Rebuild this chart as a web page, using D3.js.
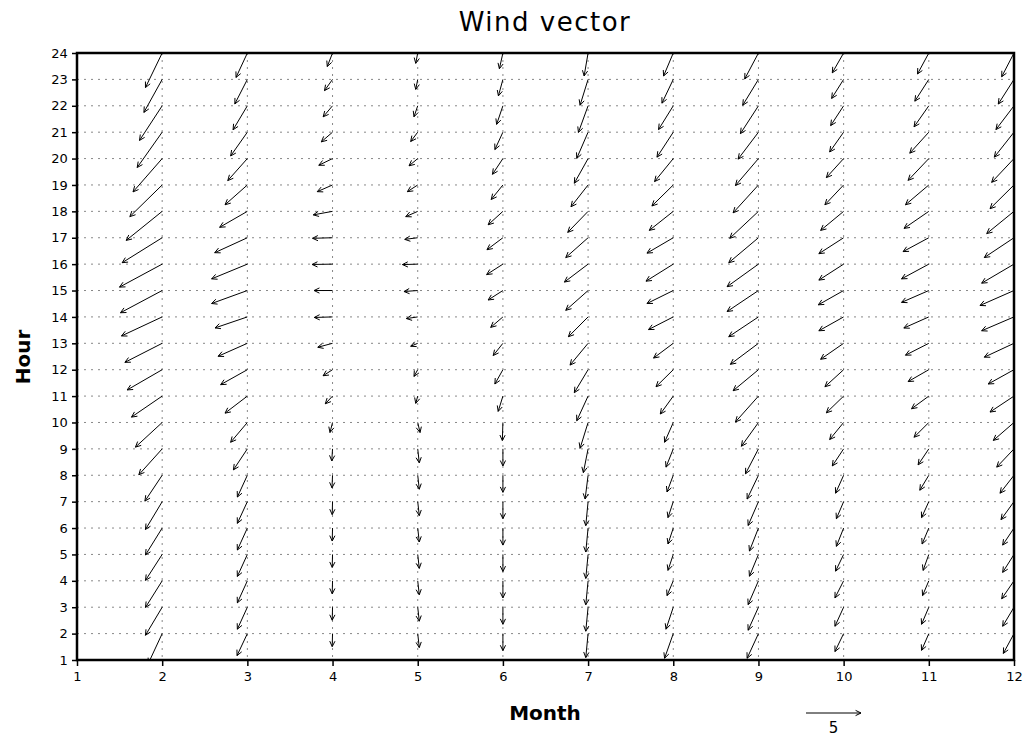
<!DOCTYPE html>
<html><head><meta charset="utf-8">
<script src="https://cdn.jsdelivr.net/npm/d3@7"></script>
<style>body{margin:0;background:#fff;} svg{display:block;}</style>
</head><body>
<svg id="chart" width="1025" height="737"></svg>
<script>
// ---- data ----
const months = [2,3,4,5,6,7,8,9,10,11,12];
const hours = d3.range(1, 25); // 1..24
const xTicks = d3.range(1, 13);
const yTicks = d3.range(1, 25);
const refLength = 5;
// u, v components, index 0 = hour 1 ... index 23 = hour 24
const uM2  = [-1.27,-1.27,-1.52,-1.52,-1.52,-1.52,-1.52,-1.57,-2.12,-2.43,-2.79,-3.18,-3.39,-3.70,-3.79,-3.88,-3.64,-3.27,-2.94,-2.65,-2.27,-2.06,-1.66,-1.52];
const vM2  = [-2.73,-2.73,-2.55,-2.42,-2.36,-2.45,-2.53,-2.35,-2.35,-2.24,-1.91,-1.84,-1.73,-1.73,-2.02,-2.09,-2.27,-2.64,-2.88,-3.03,-3.21,-3.15,-3.00,-3.14];
const uM3  = [-0.94,-0.94,-0.91,-0.91,-0.91,-0.91,-0.91,-0.91,-1.27,-1.52,-2.03,-2.43,-2.66,-2.94,-3.25,-3.25,-2.97,-2.52,-2.03,-1.78,-1.52,-1.30,-1.14,-1.03];
const vM3  = [-2.00,-2.00,-2.00,-2.00,-2.00,-2.00,-1.97,-1.98,-1.91,-1.80,-1.55,-1.36,-1.18,-1.00,-1.18,-1.34,-1.36,-1.45,-1.80,-2.00,-2.16,-2.18,-2.23,-2.22];
const uM4  = [-0.03,-0.03,-0.03,-0.03,-0.03,-0.03,-0.03,-0.05,-0.07,-0.23,-0.66,-0.86,-1.34,-1.66,-1.68,-1.86,-1.82,-1.75,-1.39,-1.25,-1.02,-0.85,-0.73,-0.48];
const vM4  = [-1.18,-1.18,-1.18,-1.18,-1.18,-1.18,-1.18,-1.14,-1.09,-0.91,-0.70,-0.55,-0.36,-0.05,0.00,-0.03,-0.05,-0.32,-0.61,-0.61,-0.88,-1.00,-1.02,-1.23];
const uM5  = [0.14,0.14,0.14,0.14,0.14,0.14,0.14,0.14,0.14,0.21,-0.18,-0.34,-0.64,-1.03,-1.25,-1.39,-1.18,-1.09,-0.94,-0.79,-0.64,-0.34,-0.18,-0.18];
const vM5  = [-1.27,-1.27,-1.27,-1.27,-1.27,-1.27,-1.27,-1.27,-1.27,-0.91,-0.66,-0.61,-0.27,-0.15,-0.09,-0.04,-0.15,-0.48,-0.61,-0.66,-0.85,-1.00,-0.91,-0.94];
const uM6  = [0.00,0.00,0.00,0.00,0.00,0.00,0.00,0.00,0.00,-0.05,-0.43,-0.73,-0.88,-1.11,-1.34,-1.48,-1.45,-1.34,-1.06,-0.95,-0.73,-0.57,-0.41,-0.32];
const vM6  = [-1.55,-1.55,-1.55,-1.55,-1.55,-1.55,-1.55,-1.55,-1.55,-1.64,-1.39,-1.30,-1.11,-0.95,-0.86,-0.95,-1.09,-1.22,-1.32,-1.43,-1.58,-1.69,-1.50,-1.43];
const uM7  = [-0.21,-0.21,-0.21,-0.21,-0.21,-0.21,-0.21,-0.27,-0.43,-0.73,-1.03,-1.25,-1.64,-1.79,-2.03,-2.15,-2.03,-1.85,-1.55,-1.25,-1.03,-0.88,-0.73,-0.36];
const vM7  = [-2.18,-2.18,-2.18,-2.18,-2.18,-2.18,-2.18,-2.16,-2.16,-2.35,-2.24,-2.09,-1.98,-1.80,-1.80,-1.63,-1.80,-1.91,-1.98,-2.24,-2.38,-2.42,-2.35,-2.09];
const uM8  = [-0.79,-0.79,-0.66,-0.57,-0.48,-0.48,-0.48,-0.57,-0.66,-0.79,-1.18,-1.57,-1.79,-2.25,-2.39,-2.48,-2.39,-2.18,-1.94,-1.70,-1.48,-1.34,-1.03,-0.88];
const vM8  = [-2.24,-2.24,-2.00,-1.34,-1.45,-1.45,-1.45,-1.52,-1.66,-1.80,-1.63,-1.55,-1.34,-1.15,-1.18,-1.55,-1.40,-1.73,-1.91,-2.09,-2.27,-2.16,-2.16,-2.09];
const uM9  = [-1.03,-1.03,-0.94,-0.94,-0.82,-0.82,-0.94,-1.03,-1.18,-1.55,-2.09,-2.30,-2.55,-2.70,-2.85,-2.85,-2.70,-2.61,-2.30,-2.09,-1.85,-1.64,-1.43,-1.25];
const vM9  = [-2.24,-2.24,-2.09,-2.16,-1.98,-2.09,-2.16,-2.16,-2.27,-2.16,-2.35,-1.91,-1.91,-1.80,-1.91,-2.05,-2.27,-2.45,-2.53,-2.45,-2.45,-2.53,-2.35,-2.36];
const uM10 = [-0.79,-0.79,-0.79,-0.79,-0.73,-0.66,-0.66,-0.73,-1.03,-1.27,-1.57,-1.70,-2.09,-2.25,-2.30,-2.25,-2.25,-2.09,-1.70,-1.57,-1.27,-1.18,-1.09,-1.03];
const vM10 = [-1.63,-1.63,-1.73,-1.55,-1.52,-1.66,-1.55,-1.63,-1.55,-1.55,-1.52,-1.55,-1.45,-1.26,-1.30,-1.45,-1.45,-1.73,-1.80,-1.73,-1.80,-1.80,-1.73,-1.80];
const uM11 = [-0.66,-0.66,-0.66,-0.57,-0.52,-0.61,-0.66,-0.82,-0.97,-1.34,-1.57,-1.88,-2.12,-2.27,-2.48,-2.48,-2.34,-2.25,-2.12,-1.88,-1.73,-1.34,-1.27,-1.03];
const vM11 = [-1.52,-1.52,-1.55,-1.34,-1.45,-1.45,-1.45,-1.36,-1.45,-1.34,-1.15,-1.08,-1.08,-1.01,-1.08,-1.34,-1.26,-1.55,-1.80,-1.98,-1.91,-1.91,-1.98,-1.91];
const uM12 = [-0.97,-0.97,-1.03,-1.12,-1.03,-1.03,-1.18,-1.27,-1.57,-1.88,-2.18,-2.34,-2.70,-2.94,-3.09,-2.94,-2.70,-2.48,-2.18,-2.03,-1.79,-1.64,-1.43,-1.12];
const vM12 = [-1.80,-1.80,-1.73,-1.63,-1.63,-1.55,-1.63,-1.63,-1.66,-1.63,-1.45,-1.30,-1.26,-1.26,-1.36,-1.73,-1.80,-2.02,-2.16,-2.16,-2.27,-2.16,-2.24,-2.16];
const uByMonth = [uM2,uM3,uM4,uM5,uM6,uM7,uM8,uM9,uM10,uM11,uM12];
const vByMonth = [vM2,vM3,vM4,vM5,vM6,vM7,vM8,vM9,vM10,vM11,vM12];

// ---- layout ----
const svg = d3.select('#chart');
const L = 77, R = 1014, T = 53, B = 660;
const x = d3.scaleLinear().domain([1,12]).range([L,R]);
const y = d3.scaleLinear().domain([1,24]).range([B,T]);
const vec = d3.scaleLinear().domain([0, refLength]).range([0, 55]); // px per speed unit
const FONT = "'DejaVu Sans', 'Liberation Sans', sans-serif";

const vectors = [];
months.forEach((m, i) => {
  hours.forEach((h, j) => {
    vectors.push({m, h, u: uByMonth[i][j], v: vByMonth[i][j]});
  });
});

svg.append('defs').append('clipPath').attr('id','clip')
  .append('rect').attr('x', L).attr('y', T).attr('width', R-L).attr('height', B-T);

// grid
const grid = svg.append('g');
grid.selectAll('line.gx').data(xTicks.slice(1,-1)).join('line')
  .attr('x1', d => x(d)).attr('x2', d => x(d)).attr('y1', T).attr('y2', B)
  .attr('stroke', '#888').attr('stroke-width', 1).attr('stroke-dasharray', '2,5');
grid.selectAll('line.gy').data(yTicks.slice(1,-1)).join('line')
  .attr('x1', L).attr('x2', R).attr('y1', d => y(d)).attr('y2', d => y(d))
  .attr('stroke', '#888').attr('stroke-width', 1).attr('stroke-dasharray', '2,5');

// arrow drawing helper
function arrowPath(x0, y0, dx, dy, head) {
  const len = Math.hypot(dx, dy);
  const x1 = x0 + dx, y1 = y0 + dy;
  if (len < 0.01) return '';
  const ang = Math.atan2(dy, dx);
  const a = 0.45;
  const hx1 = x1 - head*Math.cos(ang - a), hy1 = y1 - head*Math.sin(ang - a);
  const hx2 = x1 - head*Math.cos(ang + a), hy2 = y1 - head*Math.sin(ang + a);
  return `M${x0},${y0}L${x1},${y1}M${hx1},${hy1}L${x1},${y1}L${hx2},${hy2}`;
}

svg.append('g').attr('clip-path','url(#clip)')
  .selectAll('path').data(vectors).join('path')
  .attr('d', d => arrowPath(x(d.m), y(d.h), vec(d.u), -vec(d.v), 6))
  .attr('fill','none').attr('stroke','#000').attr('stroke-width',1);

// axes
const xAxis = d3.axisBottom(x).tickValues(xTicks).tickSize(6).tickSizeOuter(0).tickFormat(d3.format('d'));
const yAxis = d3.axisLeft(y).tickValues(yTicks).tickSize(5).tickSizeOuter(0).tickFormat(d3.format('d'));
const gx = svg.append('g').attr('transform', `translate(0,${B})`).call(xAxis);
const gy = svg.append('g').attr('transform', `translate(${L},0)`).call(yAxis);
[gx, gy].forEach(g => {
  g.select('.domain').remove();
  g.selectAll('line').attr('stroke','#000').attr('stroke-width',1.5);
  g.selectAll('text').attr('font-family', FONT).attr('font-size', 13).attr('fill','#000');
});
gx.selectAll('text').attr('dy', '0.95em');
gy.selectAll('text').attr('dx', '-0.1em');

// frame
svg.append('rect').attr('x', L).attr('y', T).attr('width', R-L).attr('height', B-T)
  .attr('fill','none').attr('stroke','#000').attr('stroke-width',2.5);

// title & labels
svg.append('text').attr('x', 545).attr('y', 31).attr('text-anchor','middle')
  .attr('font-family', FONT).attr('font-size', 26).attr('letter-spacing', 1.5).text('Wind vector');
svg.append('text').attr('x', 545).attr('y', 720).attr('text-anchor','middle')
  .attr('font-family', FONT).attr('font-size', 20).attr('font-weight','bold').text('Month');
svg.append('text').attr('transform','translate(30,357) rotate(-90)').attr('text-anchor','middle')
  .attr('font-family', FONT).attr('font-size', 20).attr('font-weight','bold').text('Hour');

// reference vector
const refX = 806, refY = 713;
svg.append('path').attr('d', arrowPath(refX, refY, vec(refLength), 0, 6))
  .attr('fill','none').attr('stroke','#000').attr('stroke-width',1);
svg.append('text').attr('x', refX + vec(refLength)/2).attr('y', 733).attr('text-anchor','middle')
  .attr('font-family', FONT).attr('font-size', 15).text(refLength);
</script>
</body></html>
